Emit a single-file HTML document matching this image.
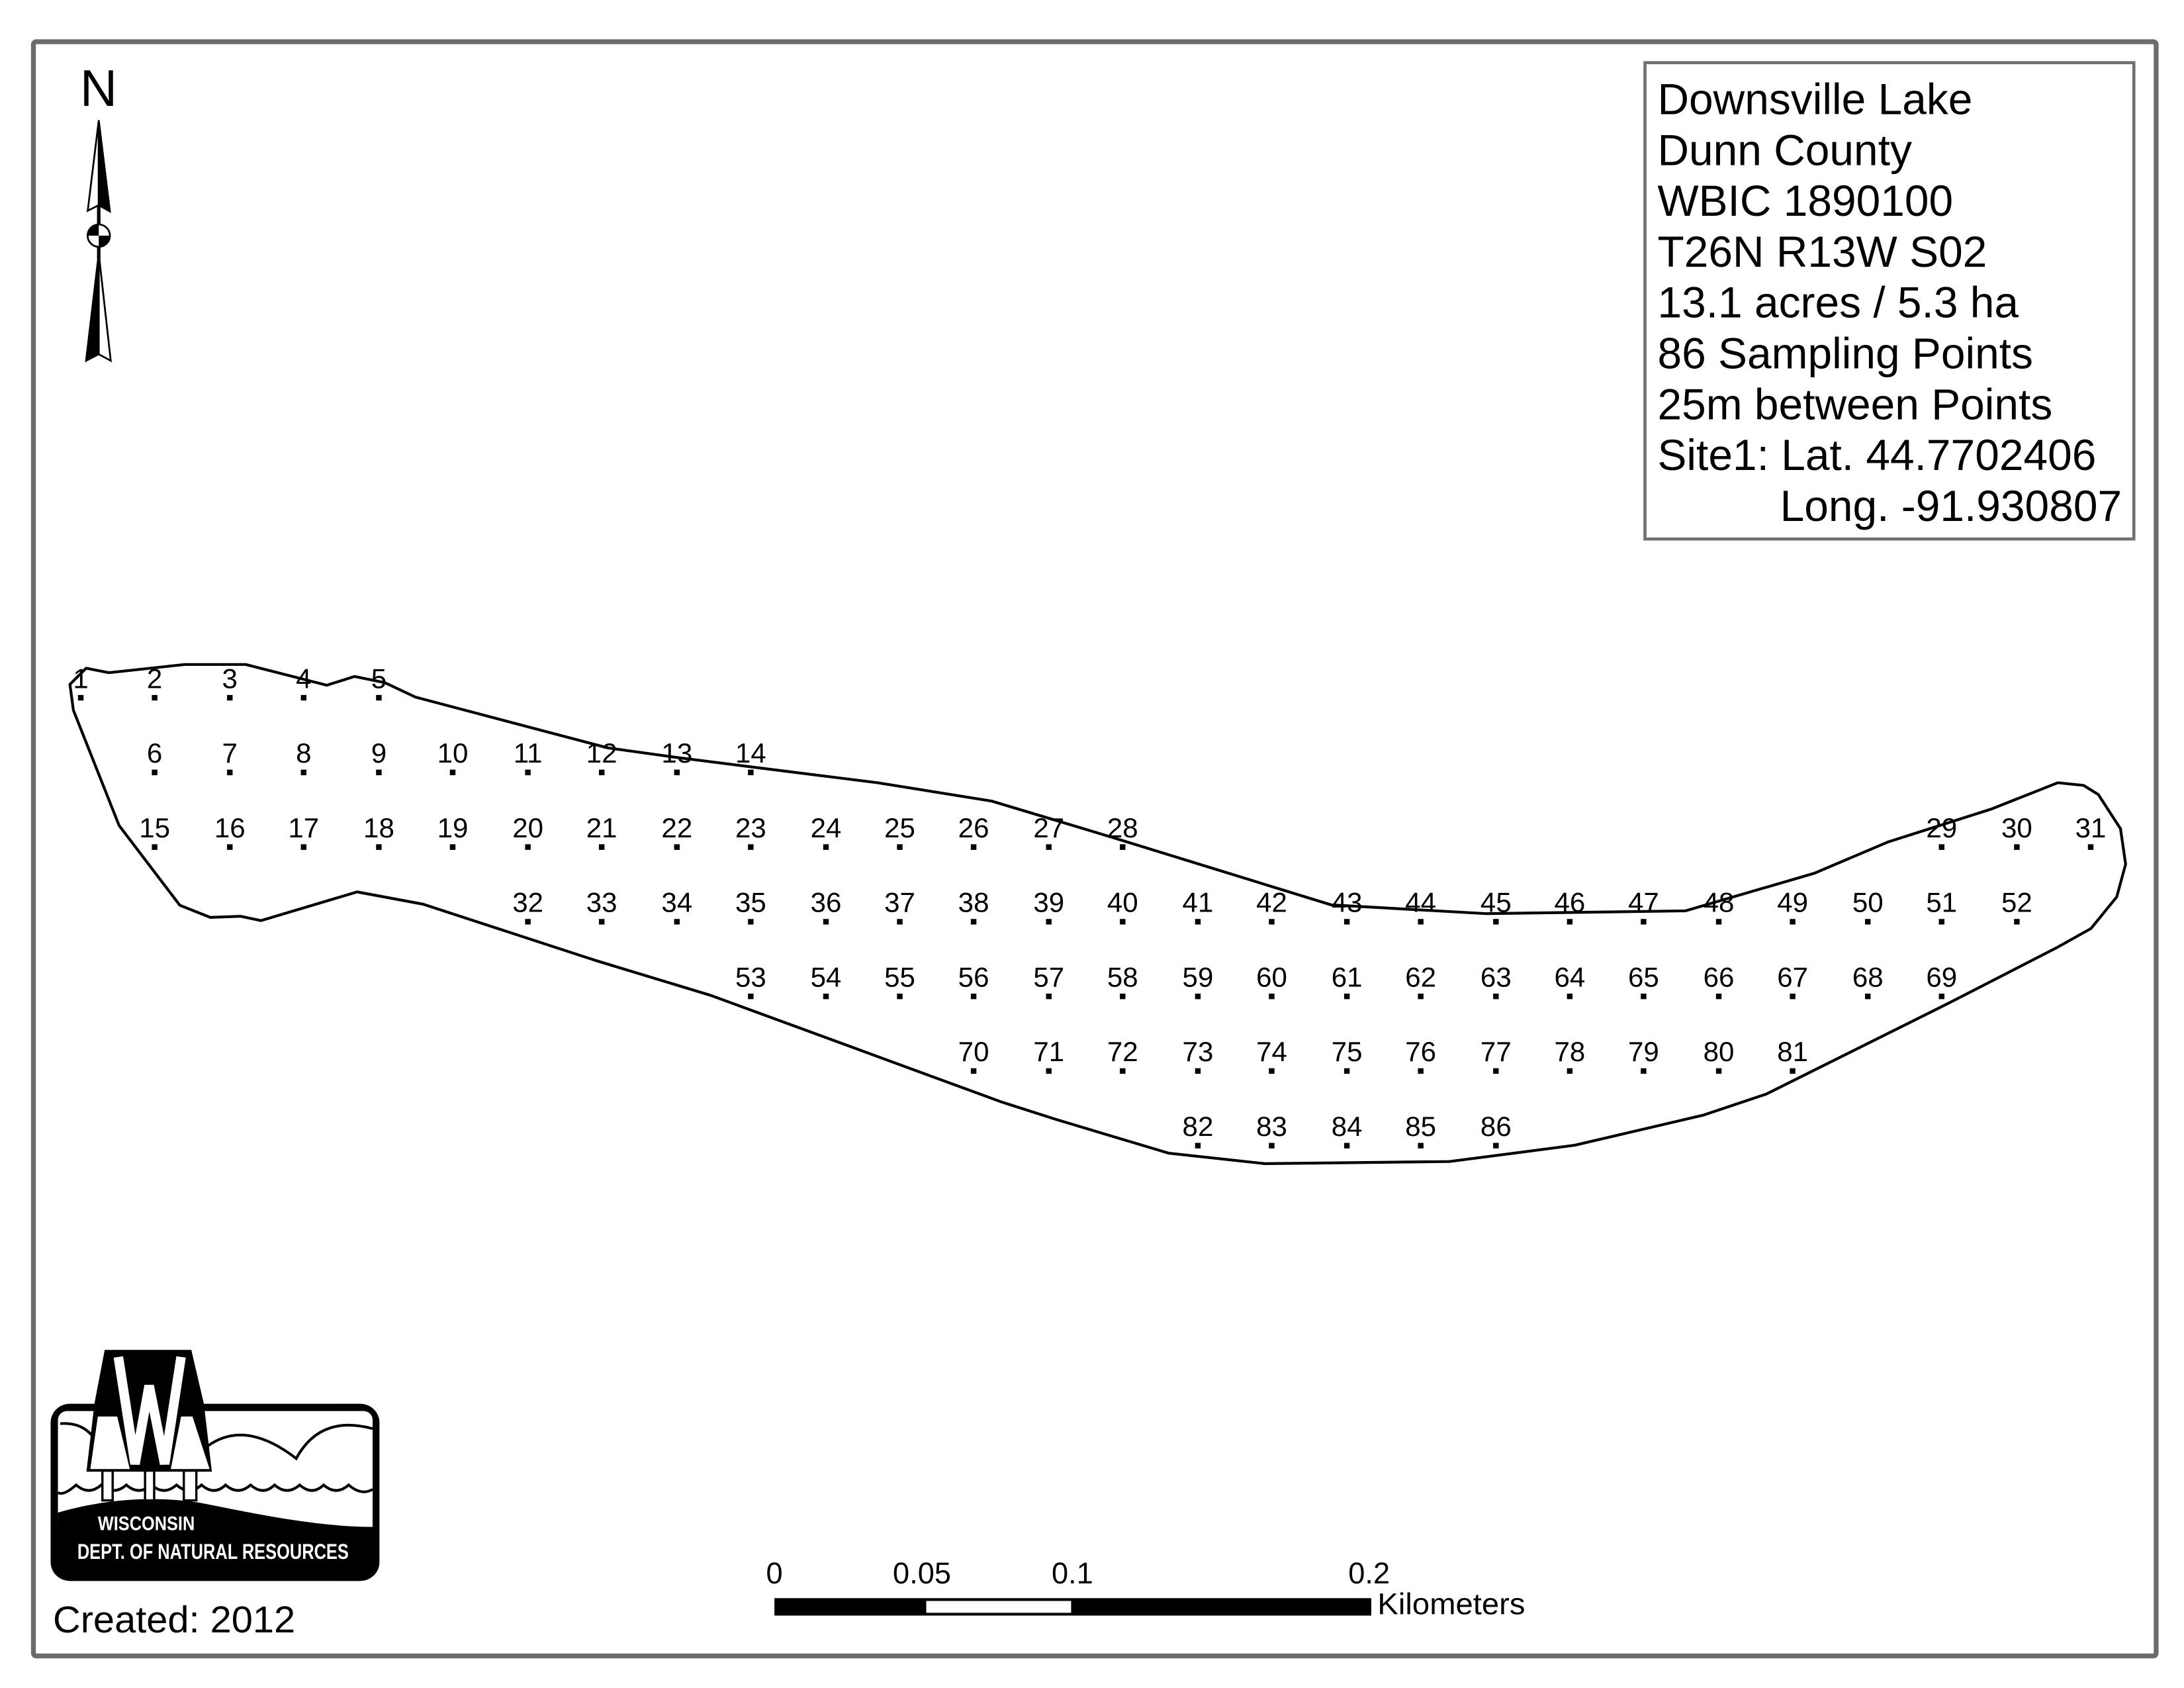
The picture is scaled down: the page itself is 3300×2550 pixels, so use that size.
<!DOCTYPE html>
<html><head><meta charset="utf-8"><style>
html,body{margin:0;padding:0;background:#fff;}
svg{display:block;}
text{font-family:"Liberation Sans",sans-serif;}
</style></head><body>
<svg width="3300" height="2550" viewBox="0 0 1568 1212" preserveAspectRatio="none" xmlns="http://www.w3.org/2000/svg">
<rect x="0" y="0" width="1568" height="1212" fill="#fff"/>
<rect x="24" y="30" width="1524" height="1159" fill="none" stroke="#6b6b6b" stroke-width="3.5" rx="2"/>
<rect x="1181" y="45" width="351" height="342" fill="none" stroke="#707070" stroke-width="2.2"/>
<g font-size="31.3" fill="#000">
<text x="1190" y="82">Downsville Lake</text>
<text x="1190" y="118.5">Dunn County</text>
<text x="1190" y="155">WBIC 1890100</text>
<text x="1190" y="191.5">T26N R13W S02</text>
<text x="1190" y="228">13.1 acres / 5.3 ha</text>
<text x="1190" y="264.5">86 Sampling Points</text>
<text x="1190" y="301">25m between Points</text>
<text x="1190" y="337.5">Site1: Lat. 44.7702406</text>
<text x="1278" y="374">Long. -91.930807</text>
</g>
<text x="70.8" y="76" font-size="37" text-anchor="middle">N</text>
<polygon points="70.9,86.3 63,151.3 70.9,147.3" fill="#fff" stroke="#000" stroke-width="1.3"/>
<polygon points="70.9,86.3 78.9,151.8 70.9,147.3" fill="#000" stroke="#000" stroke-width="1.3"/>
<line x1="70.9" y1="147" x2="70.9" y2="162" stroke="#000" stroke-width="2.5"/>
<circle cx="70.9" cy="169.2" r="8" fill="#fff" stroke="#000" stroke-width="1.3"/>
<path d="M70.9,169.2 L70.9,161.2 A8,8 0 0 0 62.9,169.2 Z" fill="#000"/>
<path d="M70.9,169.2 L70.9,177.2 A8,8 0 0 0 78.9,169.2 Z" fill="#000"/>
<line x1="70.9" y1="177" x2="70.9" y2="186" stroke="#000" stroke-width="2.5"/>
<polygon points="70.9,182 61.8,259 70.9,254.3" fill="#000" stroke="#000" stroke-width="1.3"/>
<polygon points="70.9,182 79.5,259 70.9,254.3" fill="#fff" stroke="#000" stroke-width="1.3"/>
<polygon fill="none" stroke="#000" stroke-width="2" stroke-linejoin="round" points="50.2,491.4 61.8,479.8 78.2,483 132.8,477.1 176.4,477.1 234.6,492 254.6,485.7 276.4,490.2 298.2,500.5 436.4,537 487,544 570,554.5 630,562 712,575.2 796.8,600.7 955.7,649.7 1067,656 1210,654 1302.6,627 1355.6,604.5 1429.7,580.9 1477.4,562 1495.9,563.9 1506.5,570.5 1522.4,595 1526.1,620.5 1519.7,644 1501.2,666.7 1477.4,680 1400.6,719.5 1268.2,785.5 1223.2,800.6 1130.5,822.3 1040.5,834 908,835.5 839.2,828 758.3,803.8 718.7,791.1 510.3,714.7 428.2,689.8 303.7,649.2 256.4,640.4 187.3,661 172.8,657.9 151,658.7 129.1,650 85.5,592.7 52.7,510"/>
<g fill="#000">
<path d="M56,499h4v4h-4zM109,499h4v4h-4zM163,499h4v4h-4zM216,499h4v4h-4zM270,499h4v4h-4z"/>
<path d="M109,552.6h4v4h-4zM163,552.6h4v4h-4zM216,552.6h4v4h-4zM270,552.6h4v4h-4zM323,552.6h4v4h-4zM377,552.6h4v4h-4zM430,552.6h4v4h-4zM484,552.6h4v4h-4zM537,552.6h4v4h-4z"/>
<path d="M109,606.2h4v4h-4zM163,606.2h4v4h-4zM216,606.2h4v4h-4zM270,606.2h4v4h-4zM323,606.2h4v4h-4zM377,606.2h4v4h-4zM430,606.2h4v4h-4zM484,606.2h4v4h-4zM537,606.2h4v4h-4zM591,606.2h4v4h-4zM644,606.2h4v4h-4zM697,606.2h4v4h-4zM751,606.2h4v4h-4zM804,606.2h4v4h-4zM1392,606.2h4v4h-4zM1446,606.2h4v4h-4zM1499,606.2h4v4h-4z"/>
<path d="M377,659.8h4v4h-4zM430,659.8h4v4h-4zM484,659.8h4v4h-4zM537,659.8h4v4h-4zM591,659.8h4v4h-4zM644,659.8h4v4h-4zM697,659.8h4v4h-4zM751,659.8h4v4h-4zM804,659.8h4v4h-4zM858,659.8h4v4h-4zM911,659.8h4v4h-4zM965,659.8h4v4h-4zM1018,659.8h4v4h-4zM1072,659.8h4v4h-4zM1125,659.8h4v4h-4zM1178,659.8h4v4h-4zM1232,659.8h4v4h-4zM1285,659.8h4v4h-4zM1339,659.8h4v4h-4zM1392,659.8h4v4h-4zM1446,659.8h4v4h-4z"/>
<path d="M537,713.4h4v4h-4zM591,713.4h4v4h-4zM644,713.4h4v4h-4zM697,713.4h4v4h-4zM751,713.4h4v4h-4zM804,713.4h4v4h-4zM858,713.4h4v4h-4zM911,713.4h4v4h-4zM965,713.4h4v4h-4zM1018,713.4h4v4h-4zM1072,713.4h4v4h-4zM1125,713.4h4v4h-4zM1178,713.4h4v4h-4zM1232,713.4h4v4h-4zM1285,713.4h4v4h-4zM1339,713.4h4v4h-4zM1392,713.4h4v4h-4z"/>
<path d="M697,767h4v4h-4zM751,767h4v4h-4zM804,767h4v4h-4zM858,767h4v4h-4zM911,767h4v4h-4zM965,767h4v4h-4zM1018,767h4v4h-4zM1072,767h4v4h-4zM1125,767h4v4h-4zM1178,767h4v4h-4zM1232,767h4v4h-4zM1285,767h4v4h-4z"/>
<path d="M858,820.6h4v4h-4zM911,820.6h4v4h-4zM965,820.6h4v4h-4zM1018,820.6h4v4h-4zM1072,820.6h4v4h-4z"/>
</g>
<g font-size="20" text-anchor="middle" fill="#000">
<text x="58" y="494">1</text><text x="111" y="494">2</text><text x="165" y="494">3</text><text x="218" y="494">4</text><text x="272" y="494">5</text>
<text x="111" y="547.6">6</text><text x="165" y="547.6">7</text><text x="218" y="547.6">8</text><text x="272" y="547.6">9</text><text x="325" y="547.6">10</text><text x="379" y="547.6">11</text><text x="432" y="547.6">12</text><text x="486" y="547.6">13</text><text x="539" y="547.6">14</text>
<text x="111" y="601.2">15</text><text x="165" y="601.2">16</text><text x="218" y="601.2">17</text><text x="272" y="601.2">18</text><text x="325" y="601.2">19</text><text x="379" y="601.2">20</text><text x="432" y="601.2">21</text><text x="486" y="601.2">22</text><text x="539" y="601.2">23</text><text x="593" y="601.2">24</text><text x="646" y="601.2">25</text><text x="699" y="601.2">26</text><text x="753" y="601.2">27</text><text x="806" y="601.2">28</text><text x="1394" y="601.2">29</text><text x="1448" y="601.2">30</text><text x="1501" y="601.2">31</text>
<text x="379" y="654.8">32</text><text x="432" y="654.8">33</text><text x="486" y="654.8">34</text><text x="539" y="654.8">35</text><text x="593" y="654.8">36</text><text x="646" y="654.8">37</text><text x="699" y="654.8">38</text><text x="753" y="654.8">39</text><text x="806" y="654.8">40</text><text x="860" y="654.8">41</text><text x="913" y="654.8">42</text><text x="967" y="654.8">43</text><text x="1020" y="654.8">44</text><text x="1074" y="654.8">45</text><text x="1127" y="654.8">46</text><text x="1180" y="654.8">47</text><text x="1234" y="654.8">48</text><text x="1287" y="654.8">49</text><text x="1341" y="654.8">50</text><text x="1394" y="654.8">51</text><text x="1448" y="654.8">52</text>
<text x="539" y="708.4">53</text><text x="593" y="708.4">54</text><text x="646" y="708.4">55</text><text x="699" y="708.4">56</text><text x="753" y="708.4">57</text><text x="806" y="708.4">58</text><text x="860" y="708.4">59</text><text x="913" y="708.4">60</text><text x="967" y="708.4">61</text><text x="1020" y="708.4">62</text><text x="1074" y="708.4">63</text><text x="1127" y="708.4">64</text><text x="1180" y="708.4">65</text><text x="1234" y="708.4">66</text><text x="1287" y="708.4">67</text><text x="1341" y="708.4">68</text><text x="1394" y="708.4">69</text>
<text x="699" y="762">70</text><text x="753" y="762">71</text><text x="806" y="762">72</text><text x="860" y="762">73</text><text x="913" y="762">74</text><text x="967" y="762">75</text><text x="1020" y="762">76</text><text x="1074" y="762">77</text><text x="1127" y="762">78</text><text x="1180" y="762">79</text><text x="1234" y="762">80</text><text x="1287" y="762">81</text>
<text x="860" y="815.6">82</text><text x="913" y="815.6">83</text><text x="967" y="815.6">84</text><text x="1020" y="815.6">85</text><text x="1074" y="815.6">86</text>
</g>
<rect x="556" y="1147.5" width="428.5" height="12.5" fill="#000"/>
<rect x="665" y="1149.5" width="104" height="8.5" fill="#fff"/>
<g font-size="21.5" fill="#000">
<text x="550" y="1137">0</text>
<text x="641" y="1137">0.05</text>
<text x="755" y="1137">0.1</text>
<text x="968" y="1137">0.2</text>
<text x="989" y="1159" textLength="106" lengthAdjust="spacingAndGlyphs">Kilometers</text>
</g>
<text x="38" y="1172" font-size="27" fill="#000" textLength="174" lengthAdjust="spacingAndGlyphs">Created: 2012</text>
<svg x="28.5" y="964.8" width="256.7" height="175.9" viewBox="0 0 1568 1110" preserveAspectRatio="none">
<rect x="48" y="272" width="1442" height="803" rx="85" fill="#000"/>
<rect x="80" y="305" width="1380" height="560" rx="40" fill="#fff"/>
<path d="M80,765 C300,700 500,690 700,720 C900,760 1200,830 1460,830 L1460,1000 L80,1000 Z" fill="#000"/>
<g fill="none" stroke="#000" stroke-width="12">
<path d="M90,362 Q190,355 240,430"/>
<path d="M735,465 Q900,340 1125,520 Q1230,320 1460,385"/>
<path d="M80,675 Q105,690 160,640 Q215,690 270,640 Q325,690 380,640 Q435,690 490,640 Q545,690 600,640 Q655,690 710,640 Q765,690 815,640 Q870,690 925,640 Q980,690 1030,640 Q1085,690 1140,640 Q1195,690 1245,640 Q1300,690 1355,640 Q1410,690 1460,660"/>
</g>
<rect x="275" y="575" width="45" height="135" fill="#fff" stroke="#000" stroke-width="10"/>
<rect x="462" y="575" width="40" height="135" fill="#fff" stroke="#000" stroke-width="10"/>
<rect x="632" y="575" width="55" height="135" fill="#fff" stroke="#000" stroke-width="10"/>
<polygon points="285,28 665,28 720,272 755,580 205,580 240,272" fill="#000"/>
<polygon points="255,330 222,568 395,568 340,330" fill="#fff"/>
<polygon points="670,330 745,568 575,568 620,330" fill="#fff"/>
<polyline points="345,60 418,545 480,190 548,545 620,60" fill="none" stroke="#fff" stroke-width="42" stroke-linejoin="miter"/>
<text x="255" y="845" font-size="88" font-weight="bold" fill="#fff" textLength="425" lengthAdjust="spacingAndGlyphs">WISCONSIN</text>
<text x="165" y="975" font-size="98" font-weight="bold" fill="#fff" textLength="1190" lengthAdjust="spacingAndGlyphs">DEPT. OF NATURAL RESOURCES</text>
</svg>
</svg>
</body></html>
